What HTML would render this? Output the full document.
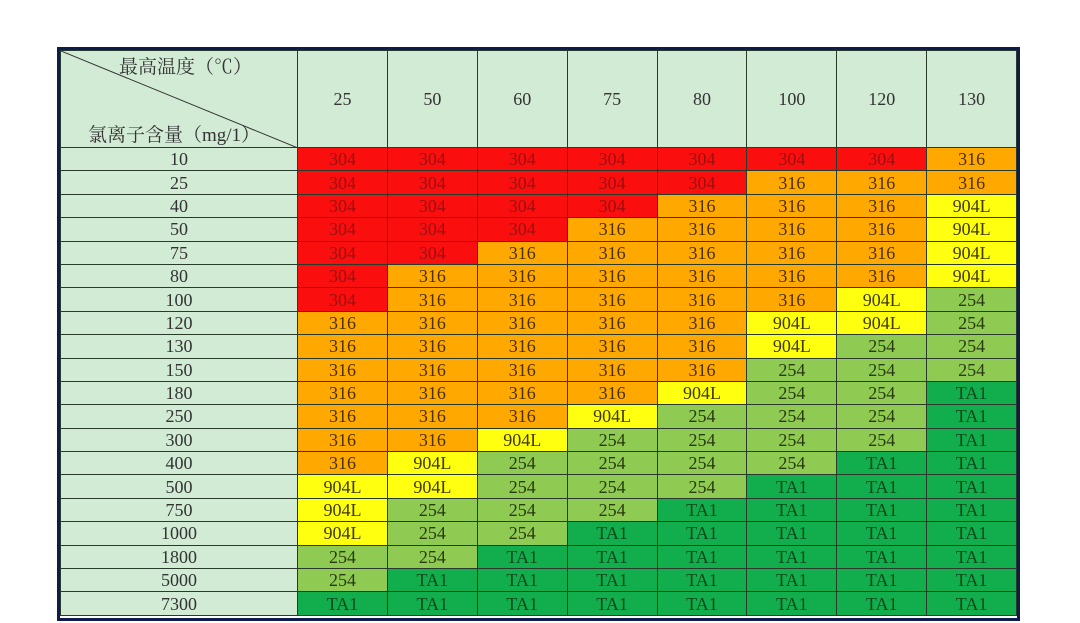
<!DOCTYPE html>
<html><head><meta charset="utf-8"><style>
body{margin:0;width:1080px;height:623px;background:#fff;position:relative;overflow:hidden;font-family:"Liberation Serif","Noto Serif CJK SC",serif;}
.wrap{position:absolute;left:57px;top:47px;width:957px;height:568px;border:3px solid #0d1c4c;overflow:hidden;}
table{border-collapse:collapse;table-layout:fixed;width:957px;}
td{border:1px solid #2a3a2a;text-align:center;font-size:18px;color:#333;padding:0;height:22.4px;line-height:20px;background:#d2ebd5;overflow:hidden;}
tr.h td{height:96px;}
.r{background:#fa0e0e;color:#9a1010;}
.o{background:#ffa800;color:#4a3000;}
.y{background:#ffff10;color:#403a00;}
.l{background:#8fcb52;color:#283a10;}
.g{background:#12ad4c;color:#0a4a1a;}
.hd{position:relative;}
.hd svg{position:absolute;left:0;top:0;}
.t1{position:absolute;left:58px;top:6px;font-size:19px;line-height:22px;}
.t2{position:absolute;left:27px;top:74px;font-size:19px;line-height:22px;}
</style></head><body>
<div class="wrap"><table>
<colgroup><col style="width:237px"><col><col><col><col><col><col><col><col></colgroup>
<tr class="h"><td class="hd"><svg width="237" height="97"><line x1="0" y1="0" x2="237" y2="97" stroke="#333" stroke-width="1"/></svg><span class="t1">最高温度（℃）</span><span class="t2">氯离子含量（mg/1）</span></td><td>25</td><td>50</td><td>60</td><td>75</td><td>80</td><td>100</td><td>120</td><td>130</td></tr>
<tr><td>10</td><td class="r">304</td><td class="r">304</td><td class="r">304</td><td class="r">304</td><td class="r">304</td><td class="r">304</td><td class="r">304</td><td class="o">316</td></tr>
<tr><td>25</td><td class="r">304</td><td class="r">304</td><td class="r">304</td><td class="r">304</td><td class="r">304</td><td class="o">316</td><td class="o">316</td><td class="o">316</td></tr>
<tr><td>40</td><td class="r">304</td><td class="r">304</td><td class="r">304</td><td class="r">304</td><td class="o">316</td><td class="o">316</td><td class="o">316</td><td class="y">904L</td></tr>
<tr><td>50</td><td class="r">304</td><td class="r">304</td><td class="r">304</td><td class="o">316</td><td class="o">316</td><td class="o">316</td><td class="o">316</td><td class="y">904L</td></tr>
<tr><td>75</td><td class="r">304</td><td class="r">304</td><td class="o">316</td><td class="o">316</td><td class="o">316</td><td class="o">316</td><td class="o">316</td><td class="y">904L</td></tr>
<tr><td>80</td><td class="r">304</td><td class="o">316</td><td class="o">316</td><td class="o">316</td><td class="o">316</td><td class="o">316</td><td class="o">316</td><td class="y">904L</td></tr>
<tr><td>100</td><td class="r">304</td><td class="o">316</td><td class="o">316</td><td class="o">316</td><td class="o">316</td><td class="o">316</td><td class="y">904L</td><td class="l">254</td></tr>
<tr><td>120</td><td class="o">316</td><td class="o">316</td><td class="o">316</td><td class="o">316</td><td class="o">316</td><td class="y">904L</td><td class="y">904L</td><td class="l">254</td></tr>
<tr><td>130</td><td class="o">316</td><td class="o">316</td><td class="o">316</td><td class="o">316</td><td class="o">316</td><td class="y">904L</td><td class="l">254</td><td class="l">254</td></tr>
<tr><td>150</td><td class="o">316</td><td class="o">316</td><td class="o">316</td><td class="o">316</td><td class="o">316</td><td class="l">254</td><td class="l">254</td><td class="l">254</td></tr>
<tr><td>180</td><td class="o">316</td><td class="o">316</td><td class="o">316</td><td class="o">316</td><td class="y">904L</td><td class="l">254</td><td class="l">254</td><td class="g">TA1</td></tr>
<tr><td>250</td><td class="o">316</td><td class="o">316</td><td class="o">316</td><td class="y">904L</td><td class="l">254</td><td class="l">254</td><td class="l">254</td><td class="g">TA1</td></tr>
<tr><td>300</td><td class="o">316</td><td class="o">316</td><td class="y">904L</td><td class="l">254</td><td class="l">254</td><td class="l">254</td><td class="l">254</td><td class="g">TA1</td></tr>
<tr><td>400</td><td class="o">316</td><td class="y">904L</td><td class="l">254</td><td class="l">254</td><td class="l">254</td><td class="l">254</td><td class="g">TA1</td><td class="g">TA1</td></tr>
<tr><td>500</td><td class="y">904L</td><td class="y">904L</td><td class="l">254</td><td class="l">254</td><td class="l">254</td><td class="g">TA1</td><td class="g">TA1</td><td class="g">TA1</td></tr>
<tr><td>750</td><td class="y">904L</td><td class="l">254</td><td class="l">254</td><td class="l">254</td><td class="g">TA1</td><td class="g">TA1</td><td class="g">TA1</td><td class="g">TA1</td></tr>
<tr><td>1000</td><td class="y">904L</td><td class="l">254</td><td class="l">254</td><td class="g">TA1</td><td class="g">TA1</td><td class="g">TA1</td><td class="g">TA1</td><td class="g">TA1</td></tr>
<tr><td>1800</td><td class="l">254</td><td class="l">254</td><td class="g">TA1</td><td class="g">TA1</td><td class="g">TA1</td><td class="g">TA1</td><td class="g">TA1</td><td class="g">TA1</td></tr>
<tr><td>5000</td><td class="l">254</td><td class="g">TA1</td><td class="g">TA1</td><td class="g">TA1</td><td class="g">TA1</td><td class="g">TA1</td><td class="g">TA1</td><td class="g">TA1</td></tr>
<tr><td>7300</td><td class="g">TA1</td><td class="g">TA1</td><td class="g">TA1</td><td class="g">TA1</td><td class="g">TA1</td><td class="g">TA1</td><td class="g">TA1</td><td class="g">TA1</td></tr>
</table></div>
</body></html>
